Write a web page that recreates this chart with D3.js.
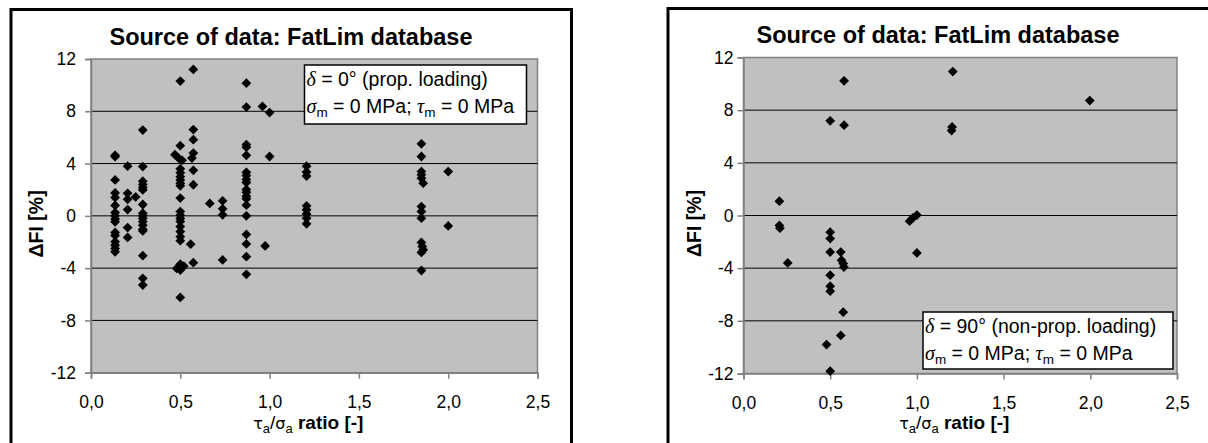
<!DOCTYPE html>
<html>
<head>
<meta charset="utf-8">
<script src="https://cdn.jsdelivr.net/npm/d3@7"></script>
<style>
  html, body { margin: 0; padding: 0; background: #fff; }
  svg { display: block; }
  text { font-family: Arial, "Liberation Sans", sans-serif; }
</style>
</head>
<body>
<svg id="chart" width="1208" height="443"></svg>
<script>
// ---------- DATA ----------
const titleText = "Source of data: FatLim database";
const yTicks = [12, 8, 4, 0, -4, -8, -12];
const yTickLabels = ["12", "8", "4", "0", "-4", "-8", "-12"];
const xTicks = [0, 0.5, 1.0, 1.5, 2.0, 2.5];
const xTickLabels = ["0,0", "0,5", "1,0", "1,5", "2,0", "2,5"];
const gridValues = [8, 4, 0, -4, -8];

// Left chart: delta = 0 deg (proportional loading)
const leftRatio = [
  0.135,0.135,0.135,0.135,0.135,0.135,0.135,0.135,0.135,0.135,0.135,0.135,0.135,0.135,0.135,0.135,
  0.205,0.205,0.205,0.205,0.205,0.205,
  0.25,
  0.29,0.29,0.29,0.29,0.29,0.29,0.29,0.29,0.29,0.29,0.29,0.29,0.29,0.29,0.29,0.29,0.29,
  0.5,0.5,0.5,0.5,0.5,0.5,0.5,0.5,0.5,0.5,0.5,0.5,0.5,0.5,0.5,0.5,0.5,0.5,0.5,0.5,
  0.47,0.48,0.49,0.51,0.52,
  0.573,0.573,0.573,0.573,0.573,0.573,0.573,
  0.565,0.558,
  0.665,
  0.737,0.737,0.737,0.737,
  0.87,0.87,0.87,0.87,0.87,0.87,0.87,0.87,0.87,0.87,0.87,0.87,0.87,0.87,0.87,0.87,0.87,0.87,0.87,
  0.96,1.0,1.0,0.975,
  1.207,1.207,1.207,1.207,1.207,1.207,1.207,1.207,
  1.85,1.85,1.85,1.85,1.85,1.86,1.85,1.85,1.85,1.85,1.855,1.86,1.85,1.85,
  2.0,2.0
];
const leftDeltaFI = [
  4.63,4.53,2.75,1.75,1.4,0.8,0.25,0,-0.25,-0.45,-1.27,-1.5,-1.98,-2.24,-2.5,-2.75,
  3.8,1.72,1.27,0.48,-0.9,-1.65,
  1.45,
  6.56,3.77,2.65,2.4,2.16,1.98,0.87,0.2,0,-0.2,-0.46,-0.71,-1.02,-1.15,-3.05,-4.78,-5.29,
  10.31,5.37,3.6,3.3,3.0,2.75,2.5,2.3,1.36,0.33,0.05,-0.2,-0.43,-0.82,-1.2,-1.59,-1.9,-3.7,-4.15,-6.24,
  4.68,-4.02,4.42,4.25,-3.85,
  11.2,6.6,5.83,4.8,3.48,2.38,-3.58,
  4.42,-2.17,
  0.95,
  1.15,0.54,0.08,-3.37,
  10.15,8.32,5.45,5.25,4.63,3.33,3.08,2.78,2.55,2.02,1.8,1.5,1.3,0.82,0,-1.42,-2.15,-3.12,-4.47,
  8.37,7.9,4.54,-2.3,
  3.8,3.35,3.05,0.77,0.46,0.15,-0.18,-0.61,
  5.51,4.54,3.39,3.14,2.88,2.5,0.71,0.33,-0.18,-2.04,-2.35,-2.6,-2.8,-4.18,
  3.39,-0.77
];

// Right chart: delta = 90 deg (non-proportional loading)
const rightRatio = [
  0.207,0.207,0.21,0.255,
  0.5,0.58,0.58,
  0.5,0.5,0.5,0.561,0.565,0.575,0.579,
  0.5,0.5,0.5,0.575,0.561,0.479,0.5,
  0.958,0.977,1.0,1.0,
  1.207,1.203,1.2,
  1.997
];
const rightDeltaFI = [
  1.09,-0.76,-0.96,-3.6,
  7.19,10.23,6.86,
  -1.27,-1.75,-2.78,-2.78,-3.39,-3.65,-3.92,
  -4.53,-5.37,-5.75,-7.34,-9.11,-9.8,-11.82,
  -0.43,-0.18,0.03,-2.84,
  10.93,6.73,6.45,
  8.73
];

const leftLegend = ["δ", " = 0° (prop. loading)"];
const rightLegend = ["δ", " = 90° (non-prop. loading)"];

// ---------- DRAW ----------
const svg = d3.select("#chart");

function drawChart(cfg) {
  const g = svg.append("g");
  // outer frame
  g.append("rect")
    .attr("x", cfg.frame[0]).attr("y", cfg.frame[1])
    .attr("width", cfg.frame[2]).attr("height", cfg.frame[3])
    .attr("fill", "#fff").attr("stroke", "#000").attr("stroke-width", 3);

  const x = d3.scaleLinear().domain([0, 2.5]).range([cfg.plot.x0, cfg.plot.x1]);
  const y = d3.scaleLinear().domain([-12, 12]).range([cfg.plot.y1, cfg.plot.y0]);

  // plot area
  g.append("rect")
    .attr("x", x(0)).attr("y", y(12))
    .attr("width", x(2.5) - x(0)).attr("height", y(-12) - y(12))
    .attr("fill", "#c0c0c0").attr("stroke", "#808080").attr("stroke-width", 1.5);

  // gridlines
  g.selectAll(".grid").data(gridValues).enter().append("line")
    .attr("x1", x(0)).attr("x2", x(2.5))
    .attr("y1", d => y(d)).attr("y2", d => y(d))
    .attr("stroke", "#000").attr("stroke-width", 1);

  // axes
  const yAxis = d3.axisLeft(y).tickValues(yTicks)
    .tickFormat((d, i) => yTickLabels[i]).tickSize(6).tickPadding(cfg.yPad);
  const ya = g.append("g").attr("transform", `translate(${x(0)},0)`).call(yAxis);
  const xAxis = d3.axisBottom(x).tickValues(xTicks)
    .tickFormat((d, i) => xTickLabels[i]).tickSize(6).tickPadding(17);
  const xa = g.append("g").attr("transform", `translate(0,${y(-12)})`).call(xAxis);
  [ya, xa].forEach(a => {
    a.select(".domain").attr("stroke", "#808080").attr("stroke-width", 1.5);
    a.selectAll(".tick line").attr("stroke", "#808080").attr("stroke-width", 1.5);
    a.selectAll(".tick text").attr("fill", "#000")
      .style("font-family", "Arial, 'Liberation Sans', sans-serif").style("font-size", "17.5px");
  });

  // points
  const diamond = "M0,-4.9L4.9,0L0,4.9L-4.9,0Z";
  g.selectAll(".pt").data(cfg.xs.map((v, i) => [v, cfg.ys[i]])).enter().append("path")
    .attr("d", diamond)
    .attr("transform", d => `translate(${x(d[0])},${y(d[1])})`)
    .attr("fill", "#000");

  // title
  g.append("text")
    .attr("x", cfg.titleX).attr("y", cfg.titleY)
    .attr("text-anchor", "middle")
    .style("font-size", "23.5px").style("font-weight", "bold")
    .text(titleText);

  // y label
  g.append("text")
    .attr("transform", `translate(${cfg.yLabelX},${(y(12) + y(-12)) / 2 + 8}) rotate(-90)`)
    .attr("text-anchor", "middle")
    .style("font-size", "19.5px").style("font-weight", "bold")
    .text("ΔFI [%]");

  // x label
  const xl = g.append("text")
    .attr("x", (x(0) + x(2.5)) / 2 - 6).attr("y", 429)
    .attr("text-anchor", "middle")
    .style("font-size", "19px");
  xl.append("tspan").style("font-family", "'DejaVu Sans', sans-serif").style("font-size", "16px").text("τ");
  xl.append("tspan").attr("dy", 4).style("font-size", "13px").text("a");
  xl.append("tspan").attr("dy", -4).text("/");
  xl.append("tspan").style("font-family", "'DejaVu Sans', sans-serif").style("font-size", "16px").text("σ");
  xl.append("tspan").attr("dy", 4).style("font-size", "13px").text("a");
  xl.append("tspan").attr("dy", -4).style("font-weight", "bold").text(" ratio [-]");

  // legend box
  const L = cfg.legend;
  g.append("rect")
    .attr("x", L.x).attr("y", L.y).attr("width", L.w).attr("height", L.h)
    .attr("fill", "#fff").attr("stroke", "#000").attr("stroke-width", 1.5);
  const t1 = g.append("text").attr("x", L.x + 2).attr("y", L.y + 21).style("font-size", "19.5px");
  t1.append("tspan").style("font-style", "italic").style("font-family", "'Liberation Serif', serif").style("font-size", "20px").text(cfg.legendText[0]);
  t1.append("tspan").text(cfg.legendText[1]);
  const t2 = g.append("text").attr("x", L.x + 2).attr("y", L.y + 48).style("font-size", "19.5px");
  t2.append("tspan").style("font-style", "italic").style("font-family", "'Liberation Serif', serif").style("font-size", "20px").text("σ");
  t2.append("tspan").attr("dy", 4).style("font-size", "13.5px").text("m");
  t2.append("tspan").attr("dy", -4).text(" = 0 MPa; ");
  t2.append("tspan").style("font-style", "italic").style("font-family", "'Liberation Serif', serif").style("font-size", "20px").text("τ");
  t2.append("tspan").attr("dy", 4).style("font-size", "13.5px").text("m");
  t2.append("tspan").attr("dy", -4).text(" = 0 MPa");
}

drawChart({
  frame: [11, 9.5, 560.5, 460],
  plot: { x0: 91, x1: 537.5, y0: 59, y1: 372.7 },
  yPad: 9,
  xs: leftRatio, ys: leftDeltaFI,
  titleX: 291, titleY: 45,
  yLabelX: 43,
  legend: { x: 304.5, y: 65, w: 222, h: 59 },
  legendText: leftLegend
});

drawChart({
  frame: [668, 8.5, 560, 460],
  plot: { x0: 743.5, x1: 1177, y0: 57.5, y1: 373.5 },
  yPad: 4,
  xs: rightRatio, ys: rightDeltaFI,
  titleX: 938, titleY: 43,
  yLabelX: 701,
  legend: { x: 923, y: 312, w: 250, h: 57 },
  legendText: rightLegend
});
</script>
</body>
</html>
